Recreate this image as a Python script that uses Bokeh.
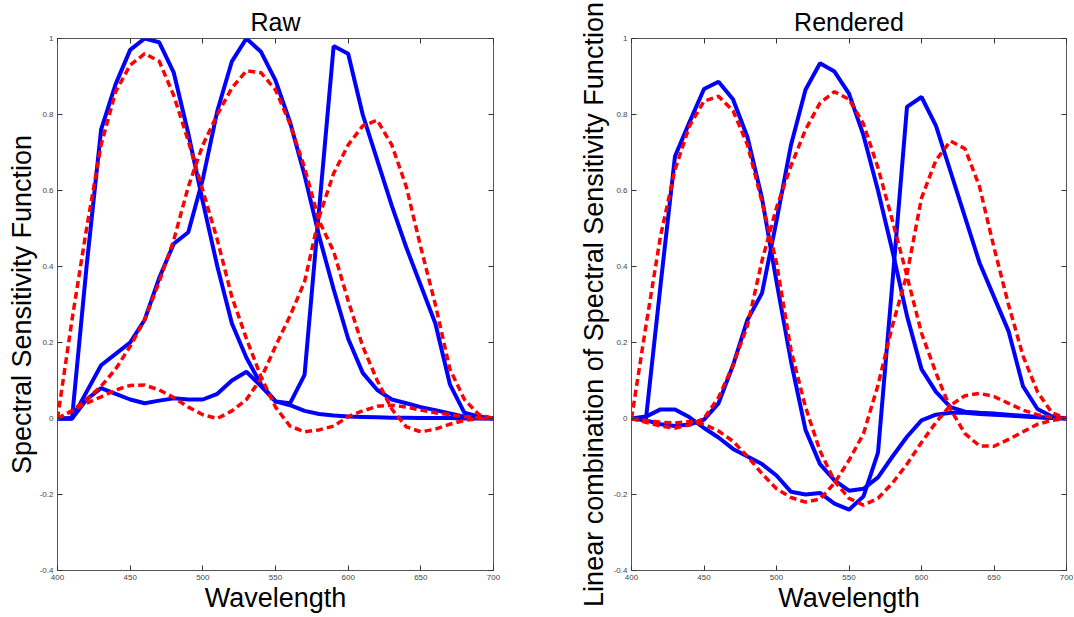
from bokeh.plotting import figure
from bokeh.models import FixedTicker, LinearAxis, Range1d
from bokeh.layouts import row
from bokeh.embed import file_html
from bokeh.resources import INLINE

# ---- data -------------------------------------------------------------
wavelength = [400, 410, 420, 430, 440, 450, 460, 470, 480, 490, 500,
              510, 520, 530, 540, 550, 560, 570, 580, 590, 600,
              610, 620, 630, 640, 650, 660, 670, 680, 690, 700]

raw_blue_s = [0, 0, 0.40, 0.76, 0.88, 0.97, 1.0, 0.99, 0.91, 0.75, 0.57,
              0.40, 0.25, 0.16, 0.09, 0.045, 0.035, 0.02, 0.012, 0.008, 0.005,
              0.004, 0.003, 0.002, 0.002, 0.001, 0.001, 0.001, 0, 0, 0]
raw_blue_m = [0, 0, 0.07, 0.14, 0.17, 0.20, 0.26, 0.37, 0.46, 0.49, 0.63,
              0.81, 0.94, 1.0, 0.965, 0.89, 0.78, 0.64, 0.48, 0.34, 0.21,
              0.12, 0.075, 0.05, 0.04, 0.03, 0.022, 0.013, 0.005, 0.001, 0]
raw_blue_l = [0, 0, 0.05, 0.08, 0.065, 0.05, 0.04, 0.047, 0.053, 0.05, 0.05,
              0.065, 0.10, 0.123, 0.085, 0.045, 0.04, 0.115, 0.55, 0.98, 0.96,
              0.80, 0.68, 0.56, 0.45, 0.35, 0.25, 0.09, 0.015, 0.005, 0]

raw_red_s = [0, 0.26, 0.50, 0.72, 0.86, 0.93, 0.96, 0.94, 0.85, 0.73, 0.60,
             0.47, 0.32, 0.21, 0.11, 0.03, -0.02, -0.035, -0.03, -0.02, 0.005,
             0.02, 0.032, 0.035, 0.03, 0.022, 0.015, 0.01, 0.005, 0.002, 0]
raw_red_m = [0, 0.02, 0.05, 0.085, 0.13, 0.19, 0.26, 0.36, 0.47, 0.61, 0.72,
             0.80, 0.87, 0.915, 0.91, 0.865, 0.775, 0.66, 0.52, 0.44, 0.31,
             0.19, 0.10, 0.025, -0.022, -0.035, -0.028, -0.015, -0.005, 0, 0]
raw_red_l = [0, 0.02, 0.04, 0.057, 0.075, 0.087, 0.088, 0.075, 0.055, 0.03, 0.01,
             0.0, 0.02, 0.05, 0.105, 0.19, 0.27, 0.36, 0.53, 0.645, 0.72,
             0.77, 0.785, 0.72, 0.61, 0.45, 0.30, 0.13, 0.05, 0.01, 0]

ren_blue_s = [0, 0, 0.35, 0.69, 0.78, 0.867, 0.886, 0.84, 0.74, 0.58, 0.36,
              0.15, -0.03, -0.12, -0.163, -0.19, -0.185, -0.155, -0.10, -0.048, -0.005,
              0.01, 0.015, 0.015, 0.012, 0.01, 0.008, 0.005, 0.003, 0.001, 0]
ren_blue_m = [0, -0.005, -0.015, -0.02, -0.016, -0.003, 0.04, 0.14, 0.26, 0.33, 0.52,
              0.72, 0.865, 0.935, 0.913, 0.855, 0.745, 0.60, 0.44, 0.27, 0.13,
              0.07, 0.03, 0.018, 0.015, 0.013, 0.01, 0.007, 0.004, 0.001, 0]
ren_blue_l = [0, 0.005, 0.024, 0.024, 0.003, -0.025, -0.05, -0.08, -0.10, -0.12, -0.15,
              -0.193, -0.20, -0.196, -0.224, -0.24, -0.205, -0.09, 0.36, 0.82, 0.846,
              0.77, 0.65, 0.53, 0.41, 0.32, 0.23, 0.085, 0.025, 0.005, 0]

ren_red_s = [0, 0.245, 0.48, 0.655, 0.77, 0.835, 0.848, 0.81, 0.72, 0.57, 0.41,
             0.18, 0.03, -0.085, -0.165, -0.21, -0.228, -0.21, -0.17, -0.12, -0.063,
             -0.01, 0.035, 0.06, 0.066, 0.058, 0.04, 0.022, 0.01, 0.003, 0]
ren_red_m = [0, -0.01, -0.02, -0.025, -0.017, 0.0, 0.055, 0.14, 0.245, 0.415, 0.555,
             0.665, 0.76, 0.83, 0.86, 0.84, 0.775, 0.66, 0.52, 0.375, 0.225,
             0.12, 0.025, -0.04, -0.072, -0.073, -0.055, -0.035, -0.015, -0.005, 0]
ren_red_l = [0, -0.005, -0.01, -0.012, -0.008, -0.015, -0.033, -0.06, -0.10, -0.145, -0.185,
             -0.208, -0.22, -0.212, -0.17, -0.11, -0.04, 0.088, 0.245, 0.38, 0.58,
             0.68, 0.73, 0.71, 0.61, 0.45, 0.30, 0.165, 0.07, 0.015, 0]

x_ticks = [400, 450, 500, 550, 600, 650, 700]
x_tick_labels = ["400", "450", "500", "550", "600", "650", "700"]
y_ticks = [-0.4, -0.2, 0, 0.2, 0.4, 0.6, 0.8, 1]
y_tick_labels = ["-0.4", "-0.2", "0", "0.2", "0.4", "0.6", "0.8", "1"]

titles = ["Raw", "Rendered"]
y_labels = ["Spectral Sensitivity Function",
            "Linear combination of Spectral Sensitivity Function"]
x_label = "Wavelength"

FONT = "Liberation Sans"
BLUE = "#0000ff"
RED = "#ff0000"


def style_axis(ax, ticks, labels, show_labels=True):
    ax.ticker = FixedTicker(ticks=ticks)
    ax.minor_tick_line_color = None
    ax.major_tick_in = 5
    ax.major_tick_out = 0
    ax.major_tick_line_color = "#333333"
    ax.axis_line_color = None
    ax.major_label_text_font = FONT
    if show_labels:
        ax.major_label_overrides = {t: l for t, l in zip(ticks, labels)}
        ax.major_label_text_color = "#444444"
        ax.major_label_text_font_size = "8px"
        ax.major_label_standoff = 4
    else:
        # mirror axis: ticks only, labels not drawn
        ax.major_label_text_color = None
        ax.major_label_text_font_size = "1px"
        ax.major_label_standoff = 0


def make_fig(title, ylabel, blues, reds, bl, br, fw, ylab_standoff):
    p = figure(frame_width=fw, frame_height=532,
               x_range=Range1d(400, 700), y_range=Range1d(-0.4, 1),
               output_backend="svg", toolbar_location=None,
               min_border_left=bl, min_border_right=br,
               min_border_top=38, min_border_bottom=47,
               title=title, x_axis_location="below", y_axis_location="left")
    p.title.text_font = FONT
    p.title.text_font_size = "25px"
    p.title.text_font_style = "normal"
    p.title.align = "center"
    p.title.text_color = "black"
    p.title.standoff = 6
    p.grid.visible = False
    p.outline_line_color = "#555555"
    p.outline_line_width = 1
    p.background_fill_color = "white"
    p.border_fill_color = "white"

    style_axis(p.xaxis[0], x_ticks, x_tick_labels)
    style_axis(p.yaxis[0], y_ticks, y_tick_labels)
    p.xaxis[0].axis_label = x_label
    p.yaxis[0].axis_label = ylabel
    for ax in (p.xaxis[0], p.yaxis[0]):
        ax.axis_label_text_font = FONT
        ax.axis_label_text_font_size = "27px"
        ax.axis_label_text_font_style = "normal"
        ax.axis_label_text_color = "black"
    p.xaxis[0].axis_label_standoff = 0
    p.yaxis[0].axis_label_standoff = ylab_standoff

    top = LinearAxis()
    style_axis(top, x_ticks, x_tick_labels, show_labels=False)
    p.add_layout(top, "above")
    right = LinearAxis()
    style_axis(right, y_ticks, y_tick_labels, show_labels=False)
    p.add_layout(right, "right")

    for ys in blues:
        p.line(wavelength, ys, line_color=BLUE, line_width=4)
    for ys in reds:
        p.line(wavelength, ys, line_color=RED, line_width=3.5, line_dash="7 4")
    return p


p1 = make_fig(titles[0], y_labels[0], [raw_blue_s, raw_blue_m, raw_blue_l],
              [raw_red_s, raw_red_m, raw_red_l], 57, 52, 436, 0)
p2 = make_fig(titles[1], y_labels[1], [ren_blue_s, ren_blue_m, ren_blue_l],
              [ren_red_s, ren_red_m, ren_red_l], 86, 8, 435, 2)

layout = row(p1, p2)
open("out.html", "w").write(file_html(layout, INLINE))
